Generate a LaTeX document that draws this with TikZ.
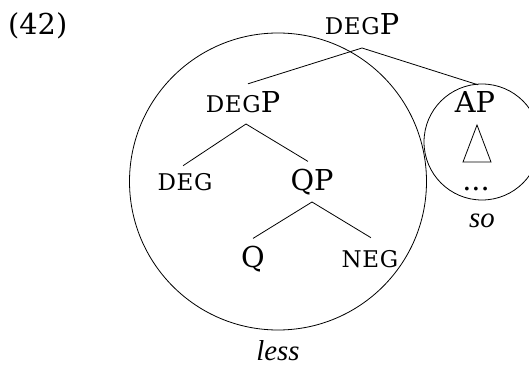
\documentclass[tikz,border=0pt]{standalone}
\usepackage{fontspec}
\setmainfont{DejaVu Serif}
\newfontfamily\itfont{Liberation Serif}[ItalicFont=* Italic]
\newcommand\scp[1]{{\fontsize{23}{24}\selectfont\addfontfeature{LetterSpace=3}#1}}
\begin{document}
\begin{tikzpicture}[x=1pt,y=1pt,
  lab/.style={inner sep=0pt, anchor=base, font=\fontsize{28.8}{30}\selectfont},
  itlab/.style={inner sep=0pt, anchor=base, font=\fontsize{28.8}{30}\selectfont\itfont\itshape},
  edge/.style={line width=0.8pt},
  ring/.style={draw, circle, line width=0.8pt, inner sep=0pt}]
\useasboundingbox (0,0) rectangle (529,367);
\node[lab, anchor=base west] (n42) at (8,332) {(42)};
\node[lab] (topdeg) at (362,332) {\scp{DEG}P};
\node[lab] (middeg) at (243,254) {\scp{DEG}P};
\node[lab] (ap) at (475,254) {AP};
\node[lab] (deg) at (185,177) {\scp{DEG}};
\node[lab] (qp) at (312,177) {QP};
\node[lab] (q) at (253,100) {Q};
\node[lab] (neg) at (370,100) {\scp{NEG}};
\node[lab] (dots) at (476,177) {...};
\node[itlab] (so) at (482,140) {so};
\node[itlab] (less) at (278,7) {less};
\node[ring, minimum size=297pt] (bigc) at (278,185.5) {};
\node[ring, minimum size=116pt] (smallc) at (482,225) {};
% branches
\coordinate (a1) at ([shift={(0,-13)}]topdeg.base);
\draw[edge] (a1) -- ([shift={(5,8)}]middeg.north);
\draw[edge] (a1) -- ([shift={(3,7)}]ap.north);
\coordinate (a2) at ([shift={(3,-11)}]middeg.base);
\draw[edge] (a2) -- ([shift={(-2,7)}]deg.north);
\draw[edge] (a2) -- ([shift={(-4,7)}]qp.north);
\coordinate (a3) at ([shift={(0,-12)}]qp.base);
\draw[edge] (a3) -- ([shift={(0,7)}]q.north);
\draw[edge] (a3) -- ([shift={(1,12)}]neg.north);
% triangle
\coordinate (t1) at ([shift={(2,-12)}]ap.base);
\coordinate (t2) at ([shift={(-12,-49)}]ap.base);
\coordinate (t3) at ([shift={(16,-49)}]ap.base);
\draw[edge, line join=miter] (t1) -- (t2) -- (t3) -- cycle;
\end{tikzpicture}
\end{document}
